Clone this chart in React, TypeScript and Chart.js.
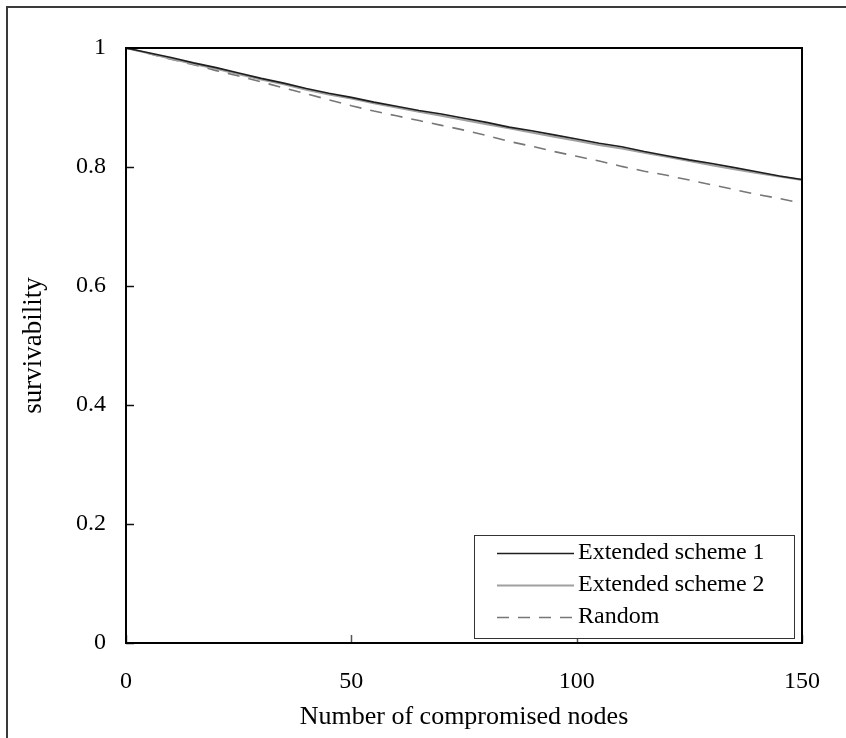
import React, { useEffect, useRef } from 'react';
import { Chart, registerables } from 'chart.js';

Chart.register(...registerables);

const nodes = [0, 5, 10, 15, 20, 25, 30, 35, 40, 45, 50, 55, 60, 65, 70, 75, 80, 85, 90, 95, 100, 105, 110, 115, 120, 125, 130, 135, 140, 145, 150];
const scheme1 = [1, 0.992, 0.984, 0.975, 0.967, 0.958, 0.949, 0.941, 0.932, 0.924, 0.917, 0.909, 0.902, 0.895, 0.889, 0.882, 0.875, 0.867, 0.861, 0.854, 0.847, 0.840, 0.834, 0.826, 0.819, 0.812, 0.806, 0.799, 0.792, 0.785, 0.779];
const scheme2 = [1, 0.991, 0.982, 0.973, 0.965, 0.956, 0.947, 0.939, 0.930, 0.922, 0.915, 0.907, 0.900, 0.893, 0.886, 0.879, 0.872, 0.865, 0.858, 0.851, 0.844, 0.837, 0.831, 0.824, 0.817, 0.810, 0.803, 0.796, 0.790, 0.784, 0.778];
const randomVals = [1, 0.991, 0.981, 0.972, 0.962, 0.953, 0.943, 0.933, 0.923, 0.913, 0.903, 0.894, 0.886, 0.878, 0.870, 0.862, 0.853, 0.843, 0.835, 0.826, 0.818, 0.810, 0.801, 0.793, 0.786, 0.778, 0.770, 0.762, 0.754, 0.747, 0.739];
const seriesLabels = ['Extended scheme 1', 'Extended scheme 2', 'Random'];
const xTicks = [0, 50, 100, 150];
const yTicks = [0, 0.2, 0.4, 0.6, 0.8, 1];
const xTitle = 'Number of compromised nodes';
const yTitle = 'survivability';

const FONT = "'Liberation Serif', 'Times New Roman', serif";

const decorPlugin = {
  id: 'decor',
  afterDraw(chart: any) {
    const ctx = chart.ctx;
    const { left, right, top, bottom } = chart.chartArea;
    const xs = chart.scales.x;
    const ys = chart.scales.y;
    ctx.save();
    // inner ticks
    ctx.lineWidth = 1.5;
    ctx.strokeStyle = '#555';
    xTicks.forEach((v) => {
      const px = Math.round(xs.getPixelForValue(v)) + 0.5;
      ctx.beginPath();
      ctx.moveTo(px, bottom);
      ctx.lineTo(px, bottom - 8);
      ctx.stroke();
    });
    ctx.strokeStyle = '#111';
    yTicks.forEach((v) => {
      const py = Math.round(ys.getPixelForValue(v)) + 0.5;
      ctx.beginPath();
      ctx.moveTo(left, py);
      ctx.lineTo(left + 8, py);
      ctx.stroke();
    });
    // plot border
    ctx.lineWidth = 2;
    ctx.strokeStyle = '#000';
    ctx.strokeRect(left, top, right - left, bottom - top);
    // legend
    const lx = 474, ly = 535, lw = 320, lh = 103;
    ctx.fillStyle = '#fff';
    ctx.fillRect(lx, ly, lw, lh);
    ctx.lineWidth = 1;
    ctx.strokeStyle = '#333';
    ctx.strokeRect(lx + 0.5, ly + 0.5, lw, lh);
    const rows = [553, 585, 617];
    chart.data.datasets.forEach((ds: any, i: number) => {
      const y = rows[i] + 0.5;
      ctx.beginPath();
      ctx.lineWidth = ds.borderWidth;
      ctx.strokeStyle = ds.borderColor;
      ctx.setLineDash(ds.borderDash || []);
      ctx.moveTo(497, y);
      ctx.lineTo(574, y);
      ctx.stroke();
      ctx.setLineDash([]);
      ctx.fillStyle = '#000';
      ctx.font = `24px ${FONT}`;
      ctx.textAlign = 'left';
      ctx.textBaseline = 'middle';
      ctx.fillText(ds.label, 578, rows[i]);
    });
    // outer frame
    ctx.lineWidth = 2;
    ctx.strokeStyle = '#3a3a3a';
    ctx.beginPath();
    ctx.moveTo(7, 738);
    ctx.lineTo(7, 7);
    ctx.lineTo(846, 7);
    ctx.stroke();
    ctx.restore();
  },
};

export default function App() {
  const ref = useRef<HTMLCanvasElement>(null);
  useEffect(() => {
    if (!ref.current) return;
    const mk = (arr: number[]) => nodes.map((x, i) => ({ x, y: arr[i] }));
    const chart = new Chart(ref.current, {
      type: 'line',
      data: {
        datasets: [
          { label: seriesLabels[0], data: mk(scheme1), borderColor: '#1e1e1e', borderWidth: 1.6, pointRadius: 0, tension: 0 },
          { label: seriesLabels[1], data: mk(scheme2), borderColor: '#a0a0a0', borderWidth: 2, pointRadius: 0, tension: 0 },
          { label: seriesLabels[2], data: mk(randomVals), borderColor: '#777777', borderWidth: 1.6, borderDash: [12, 9], pointRadius: 0, tension: 0 },
        ],
      },
      options: {
        responsive: false,
        animation: false,
        devicePixelRatio: 1,
        layout: { padding: { top: 48, right: 44, left: 0, bottom: 0 } },
        plugins: { legend: { display: false }, tooltip: { enabled: false } },
        scales: {
          x: {
            type: 'linear',
            min: 0,
            max: 150,
            afterBuildTicks: (s: any) => { s.ticks = xTicks.map((v) => ({ value: v })); },
            afterFit: (s: any) => { s.height = 95; },
            grid: { display: false, drawTicks: false },
            border: { display: false },
            ticks: { padding: 24, color: '#000', font: { family: FONT, size: 24 }, maxRotation: 0, callback: (v: any) => String(v) },
            title: { display: true, text: xTitle, color: '#000', font: { family: FONT, size: 26 }, padding: { top: 0, bottom: 5 } },
          },
          y: {
            type: 'linear',
            min: 0,
            max: 1,
            afterBuildTicks: (s: any) => { s.ticks = yTicks.map((v) => ({ value: v })); },
            afterFit: (s: any) => { s.width = 126; },
            grid: { display: false, drawTicks: false },
            border: { display: false },
            ticks: { padding: 20, color: '#000', font: { family: FONT, size: 24 }, callback: (v: any) => String(Math.round(v * 10) / 10) },
            title: { display: true, text: yTitle, color: '#000', font: { family: FONT, size: 27 }, padding: { top: 18, bottom: 0 } },
          },
        },
      },
      plugins: [decorPlugin],
    });
    return () => chart.destroy();
  }, []);
  return (
    <div style={{ position: 'absolute', left: 0, top: 0, width: 846, height: 738, background: '#fff' }}>
      <canvas ref={ref} width={846} height={738} style={{ width: 846, height: 738, display: 'block' }} />
    </div>
  );
}
